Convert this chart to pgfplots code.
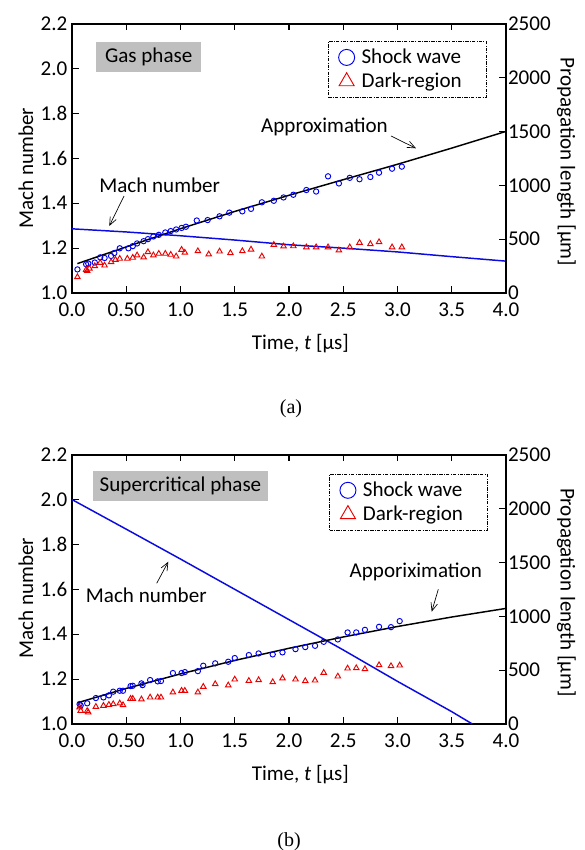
\documentclass[border=0pt]{standalone}
\usepackage{fontspec}
\setmainfont{Carlito}
\newfontfamily\timesfont{Liberation Serif}
\usepackage{pgfplots}
\usepackage{pgfplotstable}
\pgfplotsset{compat=1.18}
\usetikzlibrary{arrows.meta}

\definecolor{machblue}{RGB}{10,10,225}
\definecolor{swblue}{RGB}{0,0,240}
\definecolor{drred}{RGB}{235,0,0}
\definecolor{boxgray}{RGB}{191,191,191}

% gas phase, propagation length [um]
\pgfplotstableread{
t L
0.05 219
0.13 267
0.15 273
0.21 283
0.26 331
0.30 325
0.36 344
0.39 371
0.44 415
0.52 415
0.56 435
0.60 460
0.66 481
0.70 500
0.75 525
0.80 540
0.86 562
0.91 575
0.96 590
1.01 604
1.05 615
1.15 673
1.25 677
1.36 712
1.45 746
1.57 758
1.65 781
1.75 842
1.86 856
1.95 887
2.04 912
2.16 956
2.25 942
2.36 1083
2.46 1017
2.56 1069
2.65 1056
2.75 1077
2.83 1117
2.95 1154
3.04 1173
}\gasSW
\pgfplotstableread{
t L
0.05 148
0.13 215
0.14 205
0.16 228
0.21 250
0.26 281
0.30 256
0.36 287
0.40 309
0.44 319
0.51 319
0.56 328
0.60 350
0.66 331
0.70 380
0.75 350
0.80 365
0.86 365
0.91 356
0.96 340
1.01 402
1.04 375
1.16 389
1.26 359
1.36 386
1.46 371
1.57 389
1.65 404
1.75 340
1.86 448
1.95 433
2.04 435
2.16 425
2.25 425
2.36 425
2.46 396
2.56 425
2.65 467
2.75 454
2.83 473
2.95 425
3.04 425
}\gasDR
% supercritical phase
\pgfplotstableread{
t L
0.07 185
0.08 172
0.14 192
0.22 241
0.29 247
0.34 266
0.38 300
0.44 309
0.47 309
0.54 352
0.56 355
0.64 377
0.65 361
0.72 408
0.79 396
0.82 399
0.93 473
1.01 473
1.04 482
1.16 491
1.21 541
1.32 563
1.44 578
1.50 612
1.63 640
1.72 655
1.85 646
1.94 665
2.06 695
2.15 714
2.24 726
2.32 763
2.45 785
2.54 850
2.62 850
2.70 874
2.83 902
2.94 899
3.02 955
}\scSW
\pgfplotstableread{
t L
0.07 155
0.08 123
0.14 121
0.15 108
0.22 160
0.29 170
0.34 179
0.38 185
0.44 192
0.47 176
0.54 235
0.56 235
0.64 229
0.72 247
0.79 247
0.82 247
0.93 294
1.01 309
1.04 309
1.16 294
1.21 346
1.32 371
1.44 359
1.50 414
1.63 401
1.72 408
1.85 389
1.94 424
2.06 414
2.15 399
2.24 405
2.32 476
2.45 442
2.54 516
2.62 519
2.70 510
2.83 547
2.94 538
3.02 544
}\scDR

\pgfplotsset{
  base/.style={
    scale only axis, width=325.5pt, height=202pt,
    xmin=0, xmax=4,
    tick align=inside, major tick length=5pt,
    every tick/.style={black, line width=0.8pt},
    axis line style={line width=1.5pt},
    /pgf/number format/assume math mode=true,
  },
  machax/.style={base,
    ymin=1, ymax=2.2,
    xtick={0,0.5,1,1.5,2,2.5,3,3.5,4},
    xticklabels={0.0,0.50,1.0,1.5,2.0,2.5,3.0,3.5,4.0},
    xtick pos=both, xticklabel pos=left,
    ytick={1,1.2,1.4,1.6,1.8,2.0,2.2},
    yticklabels={1.0,1.2,1.4,1.6,1.8,2.0,2.2},
    ytick pos=left,
    xticklabel style={yshift=-4pt},
  },
  lenax/.style={base,
    ymin=0, ymax=2500,
    axis y line*=right, axis x line=none,
    ytick={0,500,1000,1500,2000,2500},
    yticklabels={0,500,1000,1500,2000,2500},
    yticklabel style={xshift=-2pt},
    legend cell align=left,
    legend image code/.code={%
      \path[draw=none, fill=none] (0pt,0pt) -- (23pt,0pt);
      \draw[##1] plot coordinates {(13.8pt,0pt)};},
    legend style={anchor=north east, draw=black, line width=0.5pt,
      dash pattern=on 2.5pt off 1pt on 0.6pt off 1pt,
      inner xsep=0pt, inner ysep=3.5pt, row sep=1.5pt},
  },
  sw/.style={only marks, mark=o, color=swblue, mark size=2pt,
    mark options={solid, line width=0.7pt},
    legend image post style={mark size=6pt}},
  dr/.style={only marks, mark=triangle, color=drred, mark size=2.4pt,
    mark options={solid, line width=0.7pt},
    legend image post style={mark size=6.5pt}},
}

\begin{document}
\begin{tikzpicture}[font=\fontsize{15.8}{19}\selectfont]

% ---------- (a) gas phase ----------
\begin{axis}[machax, at={(54pt,-219.75pt)}, anchor=south west]
  \addplot[machblue, line width=1.1pt] coordinates {
    (0,1.286) (0.5,1.272) (1.0,1.255) (1.5,1.236) (2.0,1.215)
    (2.5,1.200) (3.0,1.183) (3.5,1.162) (4.0,1.142)};
\end{axis}
\begin{axis}[lenax, at={(54pt,-219.75pt)}, anchor=south west,
    legend style={at={(rel axis cs:0.9555,0.934)}}]
  \addplot[black, line width=1.1pt, forget plot] coordinates {
    (0.05,273) (0.5,428) (1.0,597) (1.5,757) (2.0,907)
    (2.5,1052) (3.0,1195) (3.5,1345) (4.0,1500)};
  \addplot[sw] table[x=t, y=L] {\gasSW};
  \addplot[dr] table[x=t, y=L] {\gasDR};
  \legend{Shock wave, Dark-region\hspace*{16.5pt}}
\end{axis}

% ---------- (b) supercritical phase ----------
\begin{axis}[machax, at={(54pt,-543pt)}, anchor=south west]
  \addplot[machblue, line width=1.1pt] coordinates {
    (0,2.0) (0.5,1.868) (1.0,1.735) (1.5,1.600) (2.0,1.465)
    (2.5,1.330) (3.0,1.190) (3.5,1.055) (3.69,1.0)};
\end{axis}
\begin{axis}[lenax, at={(54pt,-543pt)}, anchor=south west,
    legend style={at={(rel axis cs:0.9585,0.927)}}]
  \addplot[black, line width=1.1pt, forget plot] coordinates {
    (0.05,197) (0.5,330) (1.0,465) (1.5,590) (2.0,703)
    (2.5,808) (3.0,905) (3.5,993) (4.0,1073)};
  \addplot[sw] table[x=t, y=L] {\scSW};
  \addplot[dr] table[x=t, y=L] {\scDR};
  \legend{Shock wave, Dark-region\hspace*{16.5pt}}
\end{axis}

% ---------- labels and annotations (pixel units) ----------
\begin{scope}[x=0.75pt, y=-0.75pt]
  % axis titles
  \node[rotate=90] at (26,168) {Mach number};
  \node[rotate=-90] at (566.5,161.7) {Propagation length [µm]};
  \node at (300.3,344) {Time, \textit{t} [µs]};
  \node[rotate=90] at (26,598) {Mach number};
  \node[rotate=-90] at (566.5,592.3) {Propagation length [µm]};
  \node at (300.3,775) {Time, \textit{t} [µs]};

  % phase boxes
  \node[fill=boxgray, minimum width=105pt*0.75, minimum height=30.3pt*0.75,
        inner sep=0pt] at (148.7,57) {Gas phase};
  \node[fill=boxgray, minimum width=175.6pt*0.75, minimum height=30.3pt*0.75,
        inner sep=0pt] at (180.5,485.8) {Supercritical phase};

  % annotations (a)
  \node at (324.5,126.7) {Approximation};
  \draw[line width=0.5pt, -{Straight Barb[length=6pt,width=5pt]}] (391,136) -- (416,148.3);
  \node at (159.7,185) {Mach number};
  \draw[line width=0.5pt, -{Straight Barb[length=6pt,width=5pt]}] (124,196) -- (109.3,226);

  % annotations (b)
  \node at (146.3,595) {Mach number};
  \draw[line width=0.5pt, -{Straight Barb[length=6pt,width=5pt]}] (156.7,583.3) -- (168.3,561.7);
  \node at (415.8,571.7) {Apporiximation};
  \draw[line width=0.5pt, -{Straight Barb[length=6pt,width=5pt]}] (438.3,589.3) -- (431.7,611.7);

  % panel captions
  \node[font=\timesfont\fontsize{15}{18}\selectfont] at (291,409) {(a)};
  \node[font=\timesfont\fontsize{15}{18}\selectfont] at (289,841.7) {(b)};
\end{scope}

\pgfresetboundingbox
\path (0,0) rectangle (438.75pt,-637.5pt);
\end{tikzpicture}
\end{document}
